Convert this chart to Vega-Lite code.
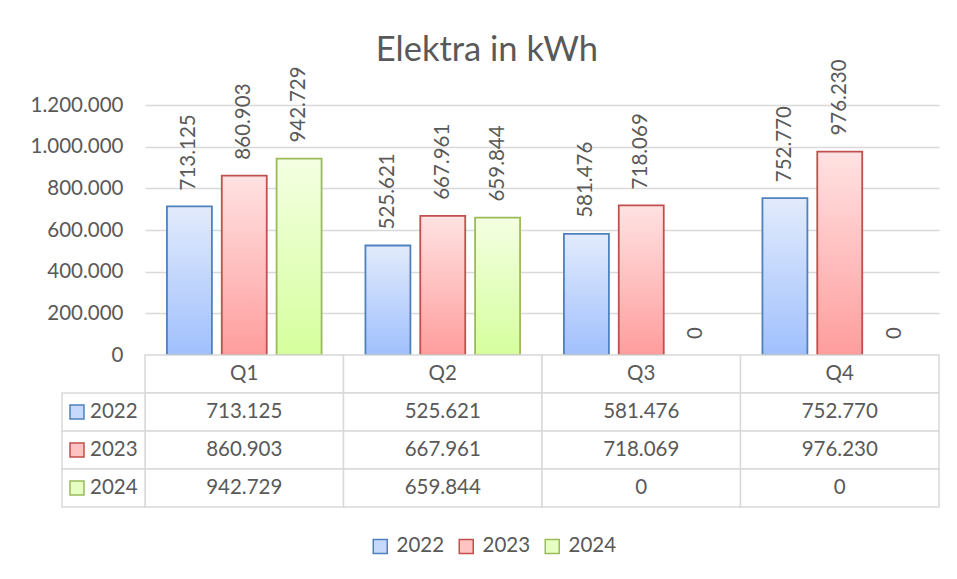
{
  "$schema": "https://vega.github.io/schema/vega-lite/v6.json",
  "background": "white",
  "padding": {"left": 30, "top": 32, "right": 10, "bottom": 10},
  "bounds": "flush",
  "spacing": 0,
  "title": {"text": "Elektra in kWh", "fontSize": 34.5, "font": "Lato", "fontWeight": "normal", "color": "#595959", "anchor": "middle", "offset": -9, "dx": 2},
  "datasets": {
    "kwh": [
      {"quarter": "Q1", "year": "2022", "kWh": 713125},
      {"quarter": "Q2", "year": "2022", "kWh": 525621},
      {"quarter": "Q3", "year": "2022", "kWh": 581476},
      {"quarter": "Q4", "year": "2022", "kWh": 752770},
      {"quarter": "Q1", "year": "2023", "kWh": 860903},
      {"quarter": "Q2", "year": "2023", "kWh": 667961},
      {"quarter": "Q3", "year": "2023", "kWh": 718069},
      {"quarter": "Q4", "year": "2023", "kWh": 976230},
      {"quarter": "Q1", "year": "2024", "kWh": 942729},
      {"quarter": "Q2", "year": "2024", "kWh": 659844},
      {"quarter": "Q3", "year": "2024", "kWh": 0},
      {"quarter": "Q4", "year": "2024", "kWh": 0}
    ]
  },
  "config": {
    "locale": {"number": {"decimal": ",", "thousands": ".", "grouping": [3], "currency": ["", " €"]}},
    "view": {"stroke": null},
    "font": "Lato",
    "text": {"font": "Lato"}
  },
  "vconcat": [
    {
      "width": 794,
      "height": 250,
      "data": {"name": "kwh"},
      "encoding": {
        "x": {"field": "quarter", "type": "nominal", "axis": null, "sort": ["Q1", "Q2", "Q3", "Q4"], "scale": {"paddingInner": 0, "paddingOuter": 0}},
        "xOffset": {"field": "year", "type": "nominal", "scale": {"domain": ["2022", "2023", "2024"], "paddingInner": 0.18, "paddingOuter": 0.4}},
        "y": {
          "field": "kWh", "type": "quantitative",
          "scale": {"domain": [0, 1200000], "nice": false},
          "axis": {"values": [0, 200000, 400000, 600000, 800000, 1000000, 1200000], "format": ",d", "title": null, "domain": false, "ticks": false, "labelPadding": 22, "labelFontSize": 20.5, "labelColor": "#595959", "labelFont": "Lato", "gridColor": "#D9D9D9", "gridWidth": 1.3}
        }
      },
      "layer": [
        {
          "transform": [{"filter": "datum.year == '2022'"}],
          "mark": {"type": "bar", "strokeWidth": 1.8, "stroke": "#4F81BD", "fill": {"gradient": "linear", "x1": 0, "y1": 0, "x2": 0, "y2": 1, "stops": [{"offset": 0, "color": "#E2EBFC"}, {"offset": 1, "color": "#A0C0FD"}]}}
        },
        {
          "transform": [{"filter": "datum.year == '2023'"}],
          "mark": {"type": "bar", "strokeWidth": 1.8, "stroke": "#C0504D", "fill": {"gradient": "linear", "x1": 0, "y1": 0, "x2": 0, "y2": 1, "stops": [{"offset": 0, "color": "#FFE2E2"}, {"offset": 1, "color": "#FF9D9D"}]}}
        },
        {
          "transform": [{"filter": "datum.year == '2024' && datum.kWh > 0"}],
          "mark": {"type": "bar", "strokeWidth": 1.8, "stroke": "#9BBB59", "fill": {"gradient": "linear", "x1": 0, "y1": 0, "x2": 0, "y2": 1, "stops": [{"offset": 0, "color": "#F4FFE2"}, {"offset": 1, "color": "#D5FF9D"}]}}
        },
        {
          "mark": {"type": "text", "angle": 270, "align": "left", "baseline": "middle", "dx": 16, "fontSize": 20.5, "color": "#595959", "font": "Lato"},
          "encoding": {"text": {"field": "kWh", "type": "quantitative", "format": ",d"}}
        }
      ]
    },
    {
      "width": 794,
      "height": 152,
      "data": {"name": "kwh"},
      "encoding": {
        "y": {"field": "year", "type": "nominal", "axis": null, "scale": {"domain": ["H", "2022", "2023", "2024"], "paddingInner": 0, "paddingOuter": 0}}
      },
      "layer": [
        {
          "encoding": {
            "x": {"field": "quarter", "type": "nominal", "axis": null, "scale": {"domain": ["Q1", "Q2", "Q3", "Q4"], "paddingInner": 0, "paddingOuter": 0}}
          },
          "layer": [
            {
              "transform": [{"filter": "datum.year == '2022'"}],
              "mark": {"type": "rect", "fill": "white", "stroke": "#D9D9D9", "strokeWidth": 1.5},
              "encoding": {"y": {"datum": "H"}}
            },
            {
              "transform": [{"filter": "datum.year == '2022'"}],
              "mark": {"type": "text", "fontSize": 20.5, "color": "#595959", "font": "Lato"},
              "encoding": {"y": {"datum": "H"}, "text": {"field": "quarter"}}
            },
            {
              "mark": {"type": "rect", "fill": "white", "stroke": "#D9D9D9", "strokeWidth": 1.5}
            },
            {
              "mark": {"type": "text", "fontSize": 20.5, "color": "#595959", "font": "Lato"},
              "encoding": {"text": {"field": "kWh", "type": "quantitative", "format": ",d"}}
            }
          ]
        },
        {
          "transform": [{"filter": "datum.quarter == 'Q1'"}],
          "encoding": {
            "x": {"datum": "label", "type": "nominal", "axis": null, "scale": {"domain": ["label"], "range": [-83, 0], "paddingInner": 0, "paddingOuter": 0}}
          },
          "layer": [
            {
              "mark": {"type": "rect", "fill": "white", "stroke": "#D9D9D9", "strokeWidth": 1.5}
            },
            {
              "mark": {"type": "point", "shape": "square", "size": 196, "filled": true, "strokeWidth": 1.5, "xOffset": 15, "opacity": 1},
              "encoding": {
                "x": {"datum": "label", "type": "nominal", "bandPosition": 0},
                "fill": {"field": "year", "type": "nominal", "scale": {"domain": ["2022", "2023", "2024"], "range": ["#C6D8FC", "#FFC3C3", "#E6FFC3"]}, "legend": {"orient": "none", "legendX": 225, "legendY": 431, "direction": "horizontal", "title": null, "symbolType": "square", "symbolSize": 196, "symbolStrokeWidth": 1.5, "labelFontSize": 20.5, "labelColor": "#595959", "labelFont": "Lato", "labelOffset": 6, "columnPadding": 11}},
                "stroke": {"field": "year", "type": "nominal", "scale": {"domain": ["2022", "2023", "2024"], "range": ["#4F81BD", "#C0504D", "#9BBB59"]}, "legend": {"orient": "none", "legendX": 225, "legendY": 431, "direction": "horizontal", "title": null, "symbolType": "square", "symbolSize": 196, "symbolStrokeWidth": 1.5, "labelFontSize": 20.5, "labelColor": "#595959", "labelFont": "Lato", "labelOffset": 6, "columnPadding": 11}}
              }
            },
            {
              "mark": {"type": "text", "align": "left", "fontSize": 20.5, "color": "#595959", "font": "Lato", "xOffset": 28},
              "encoding": {
                "x": {"datum": "label", "type": "nominal", "bandPosition": 0},
                "text": {"field": "year"}
              }
            }
          ]
        }
      ],
      "resolve": {"scale": {"x": "independent"}}
    }
  ]
}
